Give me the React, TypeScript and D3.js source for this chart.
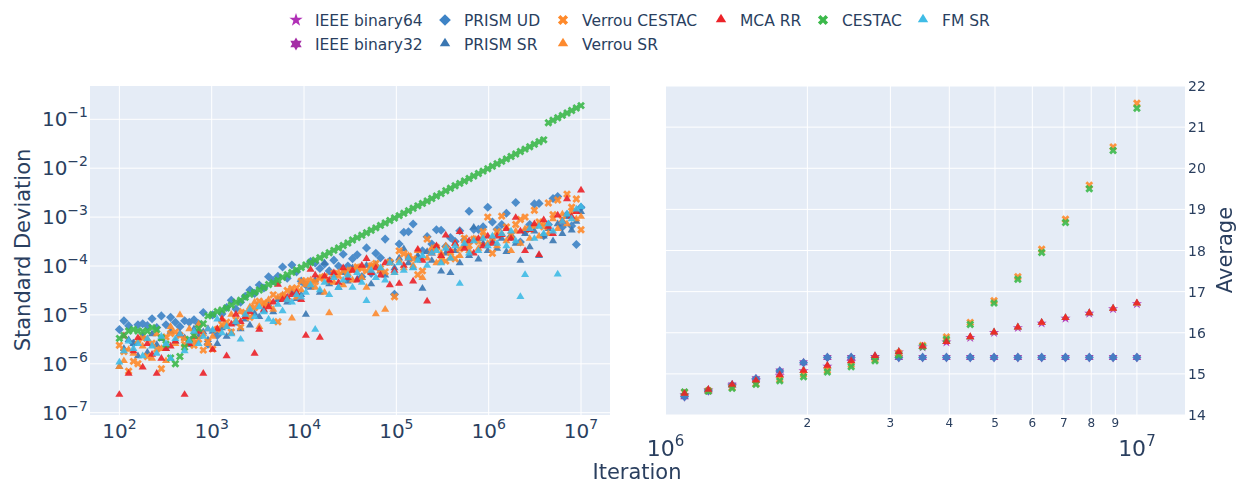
import * as d3 from 'd3';

const WIDTH = 1239;
const HEIGHT = 483;
const FONT = '"DejaVu Sans", Verdana, sans-serif';
const TEXT = '#2a3f5f';
const BG = '#e5ecf6';

// iteration counts (x) shared by every tool
const iterations = [
  100, 112, 126, 142, 159, 179, 201, 226, 254, 285, 320, 359, 404, 453, 509, 572, 643, 722, 811, 911,
  1024, 1150, 1292, 1451, 1630, 1831, 2057, 2310, 2595, 2915, 3275, 3678, 4132, 4642, 5214, 5857, 6579, 7391, 8302, 9326,
  10476, 11768, 13220, 14850, 16681, 18738, 21049, 23645, 26561, 29837, 33516, 37649, 42293, 47508, 53367, 59949, 67342, 75647, 84976, 95455,
  107227, 120450, 135306, 151991, 170735, 191792, 215444, 242013, 271859, 305387, 343048, 385354, 432878, 486262, 546229, 613593, 689262, 774265, 869752, 977014,
  1097490, 1232833, 1384879, 1555659, 1747512, 1963025, 2205110, 2477057, 2782531, 3125696, 3511167, 3944183, 4430590, 4976987, 5590770, 6280324, 7054791, 7924877, 8902133, 10000000,
];

// standard deviation, stored as log10 values
const prismUdStd = [
  -5.30, -5.12, -5.22, -5.58, -5.20, -5.18, -5.22, -5.08, -5.26, -5.02, -5.20, -5.05, -5.15, -5.24, -5.12, -5.15, -5.10, -5.18, -4.95, -5.60,
  -5.00, -5.42, -4.98, -4.85, -4.70, -4.88, -4.74, -4.62, -4.49, -4.56, -4.39, -4.45, -4.22, -4.30, -4.21, -4.02, -4.25, -3.98, -4.12, -4.31,
  -4.39, -3.91, -3.94, -4.05, -3.96, -4.10, -3.88, -4.00, -3.76, -4.00, -3.85, -3.77, -4.22, -3.63, -4.15, -3.74, -3.83, -3.45, -3.90, -4.58,
  -3.55, -3.31, -3.30, -3.14, -3.84, -3.69, -3.40, -3.55, -3.26, -3.27, -3.60, -3.42, -3.50, -3.28, -3.47, -2.88, -3.25, -3.25, -3.20, -2.80,
  -3.10, -3.25, -3.15, -2.92, -3.40, -2.70, -3.51, -3.30, -3.15, -2.73, -2.72, -3.38, -3.15, -2.62, -2.58, -3.20, -2.95, -3.18, -3.56, -2.80,
];
const prismSrStd = [
  -6.07, -5.70, -5.52, -5.60, -5.85, -5.45, -5.78, -5.40, -5.62, -5.50, -5.70, -5.35, -5.55, -5.40, -5.48, -5.62, -5.30, -5.45, -5.36, -5.52,
  -5.35, -5.60, -5.28, -5.45, -5.38, -5.18, -5.30, -5.10, -5.22, -4.98, -5.05, -4.92, -4.80, -4.95, -4.70, -4.62, -4.75, -4.55, -4.68, -4.60,
  -5.00, -4.45, -4.30, -4.55, -3.95, -4.38, -4.20, -4.45, -4.15, -4.32, -4.05, -4.28, -4.25, -4.00, -4.38, -3.98, -4.12, -4.20, -3.92, -4.05,
  -3.85, -3.66, -3.95, -4.04, -3.80, -4.47, -3.72, -3.90, -3.62, -4.12, -3.75, -4.15, -3.70, -3.95, -3.60, -3.80, -3.22, -3.87, -3.55, -3.70,
  -3.50, -3.65, -3.45, -3.72, -3.40, -3.55, -3.90, -3.35, -3.62, -3.30, -3.80, -3.40, -3.25, -3.50, -3.15, -3.35, -3.00, -3.28, -3.10, -2.90,
];
const verrouCestacStd = [
  -5.62, -5.75, -6.15, -5.95, -6.00, -5.48, -5.85, -5.58, -5.70, -6.10, -5.45, -5.38, -5.35, -5.42, -5.60, -5.55, -5.62, -5.50, -5.72, -5.55,
  -5.70, -5.30, -5.20, -5.15, -5.35, -5.10, -5.25, -4.95, -5.05, -4.85, -4.72, -4.75, -4.80, -4.59, -5.14, -4.62, -4.50, -4.46, -4.45, -4.31,
  -4.30, -4.38, -4.32, -4.25, -4.22, -4.30, -4.15, -4.20, -4.10, -4.15, -4.08, -4.02, -4.05, -4.10, -4.00, -3.95, -4.05, -4.12, -3.92, -4.63,
  -3.69, -3.75, -3.80, -3.85, -4.18, -4.10, -3.45, -3.70, -3.62, -3.86, -3.90, -3.72, -3.85, -3.65, -3.43, -3.58, -3.45, -3.50, -3.30, -3.00,
  -3.74, -3.30, -2.98, -3.20, -3.37, -3.15, -3.05, -3.00, -3.25, -2.86, -3.10, -3.20, -2.71, -2.95, -2.65, -3.05, -2.53, -2.80, -2.63, -3.26,
];
const verrouSrStd = [
  -6.07, -5.95, -5.72, -5.80, -5.55, -5.65, -5.50, -5.90, -5.40, -5.70, -5.95, -5.25, -5.60, -5.01, -5.50, -5.30, -5.55, -5.20, -5.40, -5.60,
  -5.45, -5.30, -5.10, -5.25, -5.00, -5.15, -4.95, -5.05, -4.85, -4.75, -5.25, -4.80, -4.70, -4.90, -4.65, -4.60, -4.70, -5.08, -4.65, -4.50,
  -4.40, -4.30, -4.45, -4.25, -4.55, -4.97, -4.35, -4.15, -4.40, -4.10, -4.30, -4.05, -4.25, -4.45, -4.00, -4.99, -4.10, -4.90, -3.95, -4.15,
  -3.90, -4.05, -3.80, -4.00, -3.70, -4.25, -3.85, -3.65, -3.95, -3.75, -3.60, -3.85, -3.55, -3.80, -3.50, -3.70, -3.45, -3.65, -3.40, -3.55,
  -3.45, -3.60, -3.35, -3.50, -3.70, -3.30, -3.55, -3.25, -3.45, -3.20, -3.40, -3.15, -3.35, -3.05, -3.25, -2.95, -3.15, -2.90, -3.05, -3.00,
];
const mcaRrStd = [
  -6.64, -5.44, -6.21, -5.75, -5.48, -6.08, -5.60, -5.82, -6.21, -5.90, -5.70, -5.65, -5.55, -5.40, -6.64, -5.60, -5.45, -5.35, -6.21, -5.30,
  -5.72, -5.30, -5.10, -5.85, -5.20, -5.00, -5.15, -5.05, -4.95, -5.80, -5.31, -4.90, -4.85, -4.75, -4.39, -4.70, -4.65, -4.60, -4.55, -4.70,
  -5.43, -4.08, -4.20, -5.47, -4.22, -4.30, -4.15, -4.35, -4.05, -4.25, -4.10, -4.30, -4.00, -3.86, -4.15, -4.05, -4.20, -3.95, -4.40, -4.10,
  -4.37, -4.00, -3.85, -4.32, -3.67, -3.90, -4.73, -3.75, -3.60, -3.80, -3.38, -3.70, -3.55, -3.31, -3.65, -3.50, -3.75, -3.45, -3.60, -3.40,
  -3.55, -3.40, -3.37, -3.25, -3.45, -3.02, -3.30, -3.70, -3.27, -3.15, -3.78, -3.07, -3.20, -3.35, -2.97, -3.10, -2.64, -3.00, -2.90, -2.46,
];
const cestacStd = [
  -5.48, -5.42, -5.33, -5.30, -5.33, -5.34, -5.33, -5.26, -5.30, -5.47, -5.60, -5.88, -6.00, -5.85, -5.66, -5.50, -5.42, -5.28, -5.18, -5.02,
  -4.99, -4.93, -4.90, -4.86, -4.80, -4.74, -4.70, -4.64, -4.58, -4.54, -4.49, -4.44, -4.38, -4.34, -4.29, -4.23, -4.18, -4.13, -4.08, -4.03,
  -3.98, -3.93, -3.88, -3.83, -3.78, -3.73, -3.68, -3.63, -3.58, -3.53, -3.47, -3.42, -3.37, -3.32, -3.27, -3.22, -3.17, -3.12, -3.07, -3.02,
  -2.97, -2.92, -2.87, -2.82, -2.77, -2.72, -2.67, -2.62, -2.57, -2.52, -2.46, -2.41, -2.36, -2.31, -2.26, -2.21, -2.16, -2.11, -2.06, -2.01,
  -1.96, -1.91, -1.86, -1.81, -1.76, -1.71, -1.66, -1.61, -1.56, -1.51, -1.46, -1.42, -1.07, -1.02, -0.97, -0.92, -0.87, -0.82, -0.77, -0.72,
];
const fmSrStd = [
  -5.98, -5.75, -5.55, -5.70, -5.60, -5.85, -5.50, -5.65, -5.80, -5.45, -5.60, -5.90, -5.50, -5.40, -5.75, -5.55, -5.35, -5.60, -5.45, -5.30,
  -5.32, -5.10, -5.38, -5.25, -5.40, -5.15, -5.51, -5.00, -4.90, -5.05, -4.85, -4.95, -5.10, -5.15, -4.80, -4.93, -4.70, -4.75, -4.60, -4.65,
  -4.55, -4.40, -5.31, -4.50, -4.35, -4.60, -4.25, -4.45, -4.30, -4.20, -4.45, -4.15, -4.35, -4.72, -4.10, -4.25, -4.05, -4.30, -3.95, -4.15,
  -3.95, -4.10, -3.85, -4.05, -3.90, -3.80, -4.00, -3.75, -3.70, -3.95, -3.65, -3.85, -3.60, -4.37, -3.55, -3.75, -3.50, -3.70, -3.45, -3.60,
  -3.40, -3.55, -3.35, -3.60, -3.30, -3.50, -4.64, -4.19, -3.25, -3.45, -3.20, -3.35, -3.15, -3.30, -4.18, -3.10, -2.95, -3.05, -2.85, -2.80,
];

// average, last 20 iteration counts (right panel)
const ieee64Avg = [14.49, 14.60, 14.72, 14.84, 14.95, 15.07, 15.18, 15.30, 15.42, 15.53, 15.65, 15.77, 15.88, 16.00, 16.12, 16.23, 16.35, 16.47, 16.58, 16.70];
const ieee32Avg = [14.445, 14.59, 14.73, 14.88, 15.07, 15.27, 15.40, 15.40, 15.40, 15.40, 15.40, 15.40, 15.40, 15.40, 15.40, 15.40, 15.40, 15.40, 15.40, 15.40];
const prismUdAvg = [14.445, 14.59, 14.73, 14.88, 15.07, 15.27, 15.40, 15.40, 15.40, 15.40, 15.40, 15.40, 15.40, 15.40, 15.40, 15.40, 15.40, 15.40, 15.40, 15.40];
const prismSrAvg = [14.49, 14.60, 14.72, 14.84, 14.95, 15.07, 15.18, 15.30, 15.42, 15.53, 15.65, 15.77, 15.88, 16.00, 16.12, 16.23, 16.35, 16.47, 16.58, 16.70];
const verrouCestacAvg = [14.55, 14.59, 14.67, 14.76, 14.87, 14.99, 15.09, 15.22, 15.36, 15.50, 15.69, 15.90, 16.25, 16.78, 17.36, 18.03, 18.76, 19.59, 20.52, 21.58];
const verrouSrAvg = [14.50, 14.60, 14.71, 14.84, 14.95, 15.07, 15.18, 15.30, 15.41, 15.53, 15.65, 15.77, 15.88, 16.00, 16.12, 16.23, 16.35, 16.47, 16.58, 16.70];
const mcaRrAvg = [14.51, 14.61, 14.73, 14.83, 14.965, 15.07, 15.19, 15.31, 15.43, 15.52, 15.66, 15.77, 15.89, 16.00, 16.12, 16.24, 16.35, 16.47, 16.58, 16.71];
const cestacAvg = [14.56, 14.58, 14.65, 14.745, 14.83, 14.93, 15.045, 15.175, 15.32, 15.46, 15.66, 15.84, 16.20, 16.72, 17.30, 17.95, 18.68, 19.50, 20.43, 21.46];
const fmSrAvg = [14.49, 14.60, 14.72, 14.84, 14.95, 15.07, 15.18, 15.30, 15.42, 15.53, 15.65, 15.77, 15.88, 16.00, 16.12, 16.23, 16.35, 16.47, 16.58, 16.70];

const avgIterations = iterations.slice(80);

const leftYTicks = [-7, -6, -5, -4, -3, -2, -1];
const leftXTicks = [2, 3, 4, 5, 6, 7];
const rightYTicks = [14, 15, 16, 17, 18, 19, 20, 21, 22];
const rightMinorTicks = [2, 3, 4, 5, 6, 7, 8, 9];

type Sym = 'star' | 'hexagram' | 'diamond' | 'triangle' | 'x';

type Series = {
  name: string;
  color: string;
  symbol: Sym;
  std: number[] | null;
  avg: number[];
};

const ieee64: Series = { name: 'IEEE binary64', color: '#b02fb6', symbol: 'star', std: null, avg: ieee64Avg };
const ieee32: Series = { name: 'IEEE binary32', color: '#a52ea6', symbol: 'hexagram', std: null, avg: ieee32Avg };
const prismUd: Series = { name: 'PRISM UD', color: '#3d83c6', symbol: 'diamond', std: prismUdStd, avg: prismUdAvg };
const prismSr: Series = { name: 'PRISM SR', color: '#3a77b2', symbol: 'triangle', std: prismSrStd, avg: prismSrAvg };
const verrouCestac: Series = { name: 'Verrou CESTAC', color: '#ff8a2b', symbol: 'x', std: verrouCestacStd, avg: verrouCestacAvg };
const verrouSr: Series = { name: 'Verrou SR', color: '#fd8a2e', symbol: 'triangle', std: verrouSrStd, avg: verrouSrAvg };
const mcaRr: Series = { name: 'MCA RR', color: '#ec2228', symbol: 'triangle', std: mcaRrStd, avg: mcaRrAvg };
const cestac: Series = { name: 'CESTAC', color: '#3cb94b', symbol: 'x', std: cestacStd, avg: cestacAvg };
const fmSr: Series = { name: 'FM SR', color: '#3fbce6', symbol: 'triangle', std: fmSrStd, avg: fmSrAvg };

const leftOrder = [prismUd, prismSr, verrouCestac, verrouSr, mcaRr, cestac, fmSr];
const rightOrder = [ieee64, ieee32, prismSr, fmSr, verrouSr, prismUd, verrouCestac, cestac, mcaRr];
const legendRows = [
  [ieee64, prismUd, verrouCestac, mcaRr, cestac, fmSr],
  [ieee32, prismSr, verrouSr],
];
const legendX = [296, 445, 563, 721, 823, 923];

// plotly-style marker outlines
const symbolPath = (s: Sym, r: number) => {
  const f = (v: number) => v.toFixed(2);
  if (s === 'diamond') {
    const d = r * 1.3;
    return `M${f(d)},0L0,${f(d)}L${f(-d)},0L0,${f(-d)}Z`;
  }
  if (s === 'triangle') {
    const rt = (r * 2) / Math.sqrt(3);
    return `M${f(-rt)},${f(r / 2)}H${f(rt)}L0,${f(-r * Math.SQRT2)}Z`;
  }
  if (s === 'x') {
    const a = (r * 0.8) / Math.SQRT2;
    const ne = `l${f(a)},${f(a)}`;
    const se = `l${f(a)},${f(-a)}`;
    const sw = `l${f(-a)},${f(-a)}`;
    const nw = `l${f(-a)},${f(a)}`;
    return `M0,${f(a)}${ne}${se}${sw}${se}${sw}${nw}${sw}${nw}${ne}${nw}${ne}Z`;
  }
  if (s === 'star') {
    const rs = r * 1.4;
    const x1 = rs * 0.225, x2 = rs * 0.951, x3 = rs * 0.363, x4 = rs * 0.588;
    const y1 = -rs, y2 = rs * -0.309, y3 = rs * 0.118, y4 = rs * 0.809, y5 = rs * 0.382;
    return `M${f(x1)},${f(y2)}H${f(x2)}L${f(x3)},${f(y3)}L${f(x4)},${f(y4)}L0,${f(y5)}L${f(-x4)},${f(y4)}L${f(-x3)},${f(y3)}L${f(-x2)},${f(y2)}H${f(-x1)}L0,${f(y1)}Z`;
  }
  const y = r * 0.66, x1 = r * 0.38, x2 = r * 0.76;
  return `M${f(-x2)},0l${f(-x1)},${f(-y)}h${f(x2)}l${f(x1)},${f(-y)}l${f(x1)},${f(y)}h${f(x2)}l${f(-x1)},${f(y)}l${f(x1)},${f(y)}h${f(-x2)}l${f(-x1)},${f(y)}l${f(-x1)},${f(-y)}h${f(-x2)}Z`;
};

const LEFT = { x0: 90, x1: 610, y0: 86, y1: 415 };
const RIGHT = { x0: 665, x1: 1185, y0: 86, y1: 415 };
const R = 3.5;

export default function App() {
  const xL = d3.scaleLog().domain([10 ** 1.682, 10 ** 7.314]).range([LEFT.x0, LEFT.x1]);
  const yL = d3.scaleLog().domain([10 ** -7.047, 10 ** -0.319]).range([LEFT.y1, LEFT.y0]);
  const xR = d3.scaleLog().domain([10 ** 5.999, 10 ** 7.102]).range([RIGHT.x0, RIGHT.x1]);
  const yR = d3.scaleLinear().domain([14, 22]).range([RIGHT.y1, RIGHT.y0]);

  const rightXGrid = [1e6, ...rightMinorTicks.map((m) => m * 1e6), 1e7];

  return (
    <svg
      width={WIDTH}
      height={HEIGHT}
      style={{ position: 'absolute', left: 0, top: 0, background: '#fff' }}
      fontFamily={FONT}
    >
      {/* left panel */}
      <rect x={LEFT.x0} y={LEFT.y0} width={LEFT.x1 - LEFT.x0} height={LEFT.y1 - LEFT.y0} fill={BG} />
      {leftYTicks.map((e) => (
        <line key={`ly${e}`} x1={LEFT.x0} x2={LEFT.x1} y1={yL(10 ** e)} y2={yL(10 ** e)} stroke="#fff" strokeWidth={1} />
      ))}
      {leftXTicks.map((e) => (
        <line key={`lx${e}`} y1={LEFT.y0} y2={LEFT.y1} x1={xL(10 ** e)} x2={xL(10 ** e)} stroke="#fff" strokeWidth={1} />
      ))}
      {leftOrder.map((s) => (
        <g key={`ls${s.name}`} fill={s.color} opacity={0.9}>
          {(s.std as number[]).map((v, i) => (
            <path key={i} d={symbolPath(s.symbol, R)} transform={`translate(${xL(iterations[i])},${yL(10 ** v)})`} />
          ))}
        </g>
      ))}
      {leftYTicks.map((e) => (
        <text key={`lyt${e}`} x={88} y={yL(10 ** e) + 7} textAnchor="end" fontSize={20} fill={TEXT}>
          10<tspan dy={-9} fontSize={14}>{`\u2212${-e}`}</tspan>
        </text>
      ))}
      {leftXTicks.map((e) => (
        <text key={`lxt${e}`} x={xL(10 ** e)} y={438} textAnchor="middle" fontSize={20} fill={TEXT}>
          10<tspan dy={-9} fontSize={14}>{e}</tspan>
        </text>
      ))}
      <text transform="translate(30,250) rotate(-90)" textAnchor="middle" fontSize={21} fill={TEXT}>
        Standard Deviation
      </text>

      {/* right panel */}
      <rect x={RIGHT.x0} y={RIGHT.y0} width={RIGHT.x1 - RIGHT.x0} height={RIGHT.y1 - RIGHT.y0} fill={BG} />
      {rightYTicks.map((v) => (
        <line key={`ry${v}`} x1={RIGHT.x0} x2={RIGHT.x1} y1={yR(v)} y2={yR(v)} stroke="#fff" strokeWidth={1} />
      ))}
      {rightXGrid.map((v) => (
        <line key={`rx${v}`} y1={RIGHT.y0} y2={RIGHT.y1} x1={xR(v)} x2={xR(v)} stroke="#fff" strokeWidth={1} />
      ))}
      {rightOrder.map((s) => (
        <g key={`rs${s.name}`} fill={s.color} opacity={0.9}>
          {s.avg.map((v, i) => (
            <path
              key={i}
              d={symbolPath(s.symbol, s.symbol === 'star' || s.symbol === 'hexagram' ? 3.8 : R)}
              transform={`translate(${xR(avgIterations[i])},${yR(v)})`}
            />
          ))}
        </g>
      ))}
      {rightYTicks.map((v) => (
        <text key={`ryt${v}`} x={1188} y={yR(v) + 5} textAnchor="start" fontSize={14} fill={TEXT}>
          {v}
        </text>
      ))}
      {rightMinorTicks.map((m) => (
        <text key={`rxt${m}`} x={xR(m * 1e6)} y={427} textAnchor="middle" fontSize={12} fill={TEXT}>
          {m}
        </text>
      ))}
      {[6, 7].map((e) => (
        <text key={`rxm${e}`} x={xR(10 ** e)} y={456} textAnchor="middle" fontSize={22} fill={TEXT}>
          10<tspan dy={-10} fontSize={15}>{e}</tspan>
        </text>
      ))}
      <text transform="translate(1232,250) rotate(-90)" textAnchor="middle" fontSize={21} fill={TEXT}>
        Average
      </text>

      <text x={637} y={479} textAnchor="middle" fontSize={21} fill={TEXT}>
        Iteration
      </text>

      {/* legend */}
      {legendRows.map((row, ri) =>
        row.map((s, ci) => (
          <g key={`lg${s.name}`} transform={`translate(${legendX[ci]},${20 + ri * 24})`}>
            <path d={symbolPath(s.symbol, s.symbol === 'star' || s.symbol === 'hexagram' ? 5 : 4.5)} fill={s.color} />
            <text x={19} y={5.5} fontSize={15.5} fill={TEXT}>
              {s.name}
            </text>
          </g>
        )),
      )}
    </svg>
  );
}
